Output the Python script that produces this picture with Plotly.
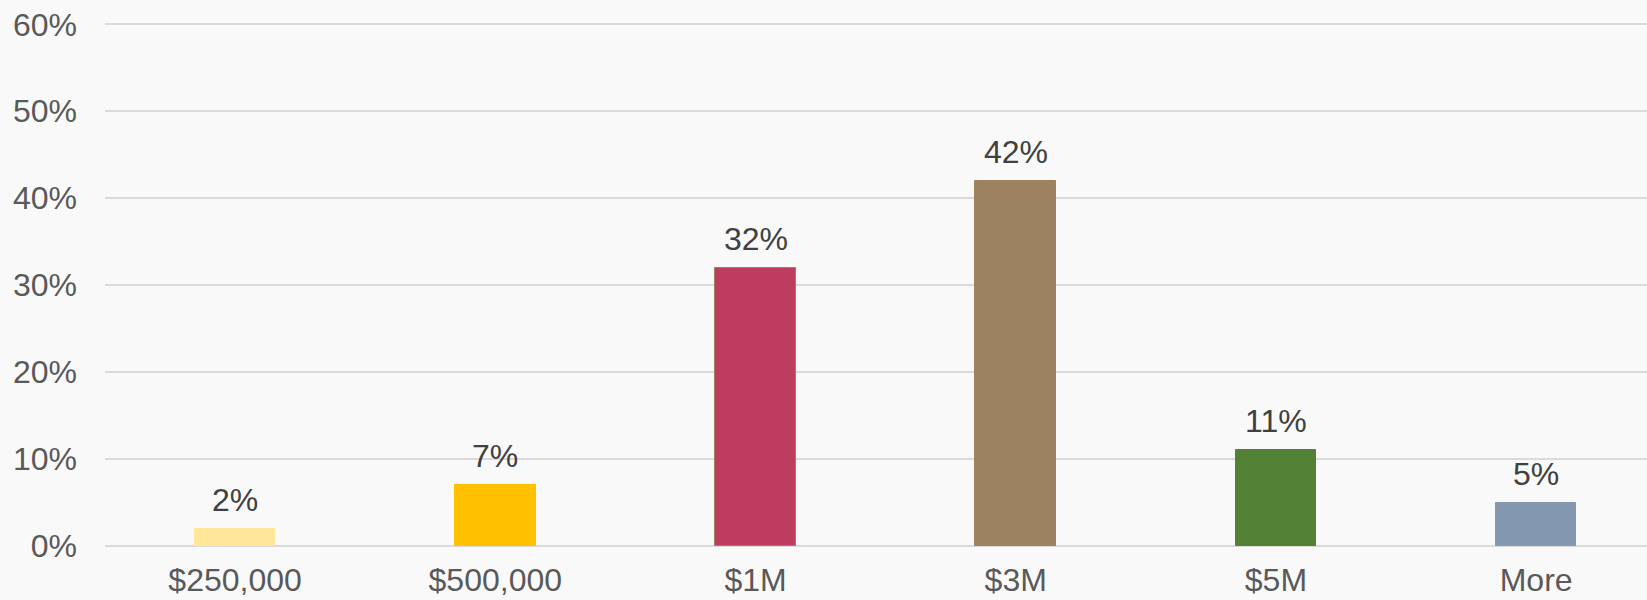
import plotly.graph_objects as go

categories = ["$250,000", "$500,000", "$1M", "$3M", "$5M", "More"]
values = [0.02, 0.07, 0.32, 0.42, 0.11, 0.05]
labels = ["2%", "7%", "32%", "42%", "11%", "5%"]
colors = ["#FFE699", "#FFC000", "#BE3C5E", "#9C8260", "#538135", "#8497B0"]
line_colors = ["#FFE699", "#FFC000", "#9C8260", "#9C8260", "#538135", "#8497B0"]
ytick_vals = [0, 0.1, 0.2, 0.3, 0.4, 0.5, 0.6]
ytick_text = ["0%", "10%", "20%", "30%", "40%", "50%", "60%"]

FONT = "Liberation Sans, Arial, sans-serif"
FS = 32

fig = go.Figure()
fig.add_trace(go.Bar(
    x=list(range(len(categories))),
    y=values,
    width=0.31,
    marker=dict(color=colors, line=dict(color=line_colors, width=1)),
    hoverinfo="skip",
))

for i, (v, t) in enumerate(zip(values, labels)):
    fig.add_annotation(x=i, y=v, text=t, showarrow=False, yanchor="bottom",
                       yshift=9, font=dict(family=FONT, size=FS, color="#404040"))

fig.update_layout(
    width=1647, height=600,
    margin=dict(l=105, r=0, t=23, b=54),
    paper_bgcolor="#F9F9F9", plot_bgcolor="#F9F9F9",
    showlegend=False,
    bargap=0,
    font=dict(family=FONT, size=FS, color="#595959"),
)
fig.update_xaxes(
    range=[-0.5, 5.426],
    tickvals=list(range(len(categories))),
    ticktext=categories,
    showgrid=False, zeroline=False, showline=False,
    ticks="", ticklabelstandoff=12, automargin=False,
    tickfont=dict(family=FONT, size=FS, color="#595959"),
)
fig.update_yaxes(
    range=[0, 0.6015],
    tickvals=ytick_vals, ticktext=ytick_text,
    showgrid=True, gridcolor="#DADADA", gridwidth=2,
    zeroline=True, zerolinecolor="#DADADA", zerolinewidth=2,
    showline=False, ticks="", ticklabelstandoff=27, automargin=False,
    tickfont=dict(family=FONT, size=FS, color="#595959"),
)

fig.write_html("out.html")
